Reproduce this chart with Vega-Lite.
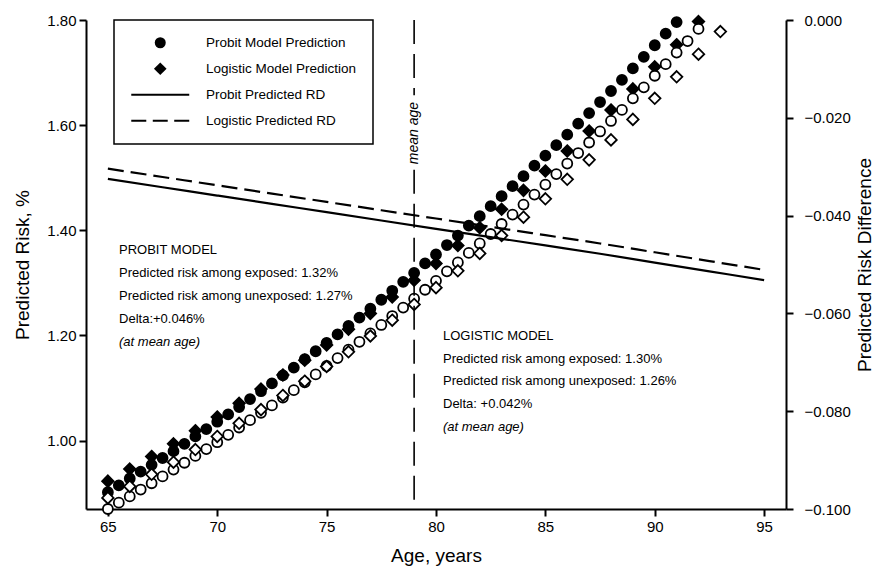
{
  "$schema": "https://vega.github.io/schema/vega-lite/v6.json",
  "width": 700,
  "height": 489,
  "autosize": {"type": "none"},
  "padding": {"left": 86, "top": 20, "right": 99, "bottom": 59},
  "background": "white",
  "config": {
    "font": "Liberation Sans, Arial, sans-serif",
    "view": {"stroke": null},
    "axis": {
      "grid": false, "domainColor": "black", "domainWidth": 2, "tickColor": "black", "tickWidth": 2, "tickSize": 7,
      "labelColor": "black", "labelFontSize": 15, "titleColor": "black", "titleFontSize": 19, "titleFontWeight": "normal",
      "labelFlush": false, "labelOverlap": false
    },
    "legend": {"labelFontSize": 13.5, "labelColor": "black", "labelLimit": 400, "strokeWidth": 1.5}
  },
  "datasets": {
    "points": [
      {"age": 65, "model": "Probit Model Prediction", "group": "exposed", "risk": 0.902},
      {"age": 65.5, "model": "Probit Model Prediction", "group": "exposed", "risk": 0.915},
      {"age": 66, "model": "Probit Model Prediction", "group": "exposed", "risk": 0.928},
      {"age": 66.5, "model": "Probit Model Prediction", "group": "exposed", "risk": 0.941},
      {"age": 67, "model": "Probit Model Prediction", "group": "exposed", "risk": 0.954},
      {"age": 67.5, "model": "Probit Model Prediction", "group": "exposed", "risk": 0.967},
      {"age": 68, "model": "Probit Model Prediction", "group": "exposed", "risk": 0.980},
      {"age": 68.5, "model": "Probit Model Prediction", "group": "exposed", "risk": 0.994},
      {"age": 69, "model": "Probit Model Prediction", "group": "exposed", "risk": 1.008},
      {"age": 69.5, "model": "Probit Model Prediction", "group": "exposed", "risk": 1.022},
      {"age": 70, "model": "Probit Model Prediction", "group": "exposed", "risk": 1.036},
      {"age": 70.5, "model": "Probit Model Prediction", "group": "exposed", "risk": 1.050},
      {"age": 71, "model": "Probit Model Prediction", "group": "exposed", "risk": 1.064},
      {"age": 71.5, "model": "Probit Model Prediction", "group": "exposed", "risk": 1.079},
      {"age": 72, "model": "Probit Model Prediction", "group": "exposed", "risk": 1.094},
      {"age": 72.5, "model": "Probit Model Prediction", "group": "exposed", "risk": 1.109},
      {"age": 73, "model": "Probit Model Prediction", "group": "exposed", "risk": 1.124},
      {"age": 73.5, "model": "Probit Model Prediction", "group": "exposed", "risk": 1.139},
      {"age": 74, "model": "Probit Model Prediction", "group": "exposed", "risk": 1.155},
      {"age": 74.5, "model": "Probit Model Prediction", "group": "exposed", "risk": 1.170},
      {"age": 75, "model": "Probit Model Prediction", "group": "exposed", "risk": 1.186},
      {"age": 75.5, "model": "Probit Model Prediction", "group": "exposed", "risk": 1.202},
      {"age": 76, "model": "Probit Model Prediction", "group": "exposed", "risk": 1.218},
      {"age": 76.5, "model": "Probit Model Prediction", "group": "exposed", "risk": 1.234},
      {"age": 77, "model": "Probit Model Prediction", "group": "exposed", "risk": 1.251},
      {"age": 77.5, "model": "Probit Model Prediction", "group": "exposed", "risk": 1.268},
      {"age": 78, "model": "Probit Model Prediction", "group": "exposed", "risk": 1.285},
      {"age": 78.5, "model": "Probit Model Prediction", "group": "exposed", "risk": 1.302},
      {"age": 79, "model": "Probit Model Prediction", "group": "exposed", "risk": 1.319},
      {"age": 79.5, "model": "Probit Model Prediction", "group": "exposed", "risk": 1.337},
      {"age": 80, "model": "Probit Model Prediction", "group": "exposed", "risk": 1.354},
      {"age": 80.5, "model": "Probit Model Prediction", "group": "exposed", "risk": 1.372},
      {"age": 81, "model": "Probit Model Prediction", "group": "exposed", "risk": 1.390},
      {"age": 81.5, "model": "Probit Model Prediction", "group": "exposed", "risk": 1.409},
      {"age": 82, "model": "Probit Model Prediction", "group": "exposed", "risk": 1.427},
      {"age": 82.5, "model": "Probit Model Prediction", "group": "exposed", "risk": 1.446},
      {"age": 83, "model": "Probit Model Prediction", "group": "exposed", "risk": 1.465},
      {"age": 83.5, "model": "Probit Model Prediction", "group": "exposed", "risk": 1.484},
      {"age": 84, "model": "Probit Model Prediction", "group": "exposed", "risk": 1.503},
      {"age": 84.5, "model": "Probit Model Prediction", "group": "exposed", "risk": 1.523},
      {"age": 85, "model": "Probit Model Prediction", "group": "exposed", "risk": 1.542},
      {"age": 85.5, "model": "Probit Model Prediction", "group": "exposed", "risk": 1.562},
      {"age": 86, "model": "Probit Model Prediction", "group": "exposed", "risk": 1.582},
      {"age": 86.5, "model": "Probit Model Prediction", "group": "exposed", "risk": 1.603},
      {"age": 87, "model": "Probit Model Prediction", "group": "exposed", "risk": 1.623},
      {"age": 87.5, "model": "Probit Model Prediction", "group": "exposed", "risk": 1.644},
      {"age": 88, "model": "Probit Model Prediction", "group": "exposed", "risk": 1.665},
      {"age": 88.5, "model": "Probit Model Prediction", "group": "exposed", "risk": 1.686},
      {"age": 89, "model": "Probit Model Prediction", "group": "exposed", "risk": 1.708},
      {"age": 89.5, "model": "Probit Model Prediction", "group": "exposed", "risk": 1.730},
      {"age": 90, "model": "Probit Model Prediction", "group": "exposed", "risk": 1.752},
      {"age": 90.5, "model": "Probit Model Prediction", "group": "exposed", "risk": 1.774},
      {"age": 91, "model": "Probit Model Prediction", "group": "exposed", "risk": 1.796},
      {"age": 65, "model": "Probit Model Prediction", "group": "unexposed", "risk": 0.870},
      {"age": 65.5, "model": "Probit Model Prediction", "group": "unexposed", "risk": 0.882},
      {"age": 66, "model": "Probit Model Prediction", "group": "unexposed", "risk": 0.894},
      {"age": 66.5, "model": "Probit Model Prediction", "group": "unexposed", "risk": 0.907},
      {"age": 67, "model": "Probit Model Prediction", "group": "unexposed", "risk": 0.919},
      {"age": 67.5, "model": "Probit Model Prediction", "group": "unexposed", "risk": 0.932},
      {"age": 68, "model": "Probit Model Prediction", "group": "unexposed", "risk": 0.945},
      {"age": 68.5, "model": "Probit Model Prediction", "group": "unexposed", "risk": 0.958},
      {"age": 69, "model": "Probit Model Prediction", "group": "unexposed", "risk": 0.971},
      {"age": 69.5, "model": "Probit Model Prediction", "group": "unexposed", "risk": 0.984},
      {"age": 70, "model": "Probit Model Prediction", "group": "unexposed", "risk": 0.997},
      {"age": 70.5, "model": "Probit Model Prediction", "group": "unexposed", "risk": 1.011},
      {"age": 71, "model": "Probit Model Prediction", "group": "unexposed", "risk": 1.025},
      {"age": 71.5, "model": "Probit Model Prediction", "group": "unexposed", "risk": 1.039},
      {"age": 72, "model": "Probit Model Prediction", "group": "unexposed", "risk": 1.053},
      {"age": 72.5, "model": "Probit Model Prediction", "group": "unexposed", "risk": 1.067},
      {"age": 73, "model": "Probit Model Prediction", "group": "unexposed", "risk": 1.082},
      {"age": 73.5, "model": "Probit Model Prediction", "group": "unexposed", "risk": 1.096},
      {"age": 74, "model": "Probit Model Prediction", "group": "unexposed", "risk": 1.111},
      {"age": 74.5, "model": "Probit Model Prediction", "group": "unexposed", "risk": 1.126},
      {"age": 75, "model": "Probit Model Prediction", "group": "unexposed", "risk": 1.142},
      {"age": 75.5, "model": "Probit Model Prediction", "group": "unexposed", "risk": 1.157},
      {"age": 76, "model": "Probit Model Prediction", "group": "unexposed", "risk": 1.173},
      {"age": 76.5, "model": "Probit Model Prediction", "group": "unexposed", "risk": 1.188},
      {"age": 77, "model": "Probit Model Prediction", "group": "unexposed", "risk": 1.204},
      {"age": 77.5, "model": "Probit Model Prediction", "group": "unexposed", "risk": 1.220},
      {"age": 78, "model": "Probit Model Prediction", "group": "unexposed", "risk": 1.237},
      {"age": 78.5, "model": "Probit Model Prediction", "group": "unexposed", "risk": 1.253},
      {"age": 79, "model": "Probit Model Prediction", "group": "unexposed", "risk": 1.270},
      {"age": 79.5, "model": "Probit Model Prediction", "group": "unexposed", "risk": 1.287},
      {"age": 80, "model": "Probit Model Prediction", "group": "unexposed", "risk": 1.304},
      {"age": 80.5, "model": "Probit Model Prediction", "group": "unexposed", "risk": 1.322},
      {"age": 81, "model": "Probit Model Prediction", "group": "unexposed", "risk": 1.339},
      {"age": 81.5, "model": "Probit Model Prediction", "group": "unexposed", "risk": 1.357},
      {"age": 82, "model": "Probit Model Prediction", "group": "unexposed", "risk": 1.375},
      {"age": 82.5, "model": "Probit Model Prediction", "group": "unexposed", "risk": 1.393},
      {"age": 83, "model": "Probit Model Prediction", "group": "unexposed", "risk": 1.412},
      {"age": 83.5, "model": "Probit Model Prediction", "group": "unexposed", "risk": 1.430},
      {"age": 84, "model": "Probit Model Prediction", "group": "unexposed", "risk": 1.449},
      {"age": 84.5, "model": "Probit Model Prediction", "group": "unexposed", "risk": 1.468},
      {"age": 85, "model": "Probit Model Prediction", "group": "unexposed", "risk": 1.487},
      {"age": 85.5, "model": "Probit Model Prediction", "group": "unexposed", "risk": 1.507},
      {"age": 86, "model": "Probit Model Prediction", "group": "unexposed", "risk": 1.527},
      {"age": 86.5, "model": "Probit Model Prediction", "group": "unexposed", "risk": 1.547},
      {"age": 87, "model": "Probit Model Prediction", "group": "unexposed", "risk": 1.567},
      {"age": 87.5, "model": "Probit Model Prediction", "group": "unexposed", "risk": 1.588},
      {"age": 88, "model": "Probit Model Prediction", "group": "unexposed", "risk": 1.608},
      {"age": 88.5, "model": "Probit Model Prediction", "group": "unexposed", "risk": 1.629},
      {"age": 89, "model": "Probit Model Prediction", "group": "unexposed", "risk": 1.651},
      {"age": 89.5, "model": "Probit Model Prediction", "group": "unexposed", "risk": 1.672},
      {"age": 90, "model": "Probit Model Prediction", "group": "unexposed", "risk": 1.694},
      {"age": 90.5, "model": "Probit Model Prediction", "group": "unexposed", "risk": 1.716},
      {"age": 91, "model": "Probit Model Prediction", "group": "unexposed", "risk": 1.738},
      {"age": 91.5, "model": "Probit Model Prediction", "group": "unexposed", "risk": 1.760},
      {"age": 92, "model": "Probit Model Prediction", "group": "unexposed", "risk": 1.783},
      {"age": 65, "model": "Logistic Model Prediction", "group": "exposed", "risk": 0.923},
      {"age": 66, "model": "Logistic Model Prediction", "group": "exposed", "risk": 0.946},
      {"age": 67, "model": "Logistic Model Prediction", "group": "exposed", "risk": 0.970},
      {"age": 68, "model": "Logistic Model Prediction", "group": "exposed", "risk": 0.994},
      {"age": 69, "model": "Logistic Model Prediction", "group": "exposed", "risk": 1.019},
      {"age": 70, "model": "Logistic Model Prediction", "group": "exposed", "risk": 1.045},
      {"age": 71, "model": "Logistic Model Prediction", "group": "exposed", "risk": 1.071},
      {"age": 72, "model": "Logistic Model Prediction", "group": "exposed", "risk": 1.098},
      {"age": 73, "model": "Logistic Model Prediction", "group": "exposed", "risk": 1.125},
      {"age": 74, "model": "Logistic Model Prediction", "group": "exposed", "risk": 1.153},
      {"age": 75, "model": "Logistic Model Prediction", "group": "exposed", "risk": 1.182},
      {"age": 76, "model": "Logistic Model Prediction", "group": "exposed", "risk": 1.212},
      {"age": 77, "model": "Logistic Model Prediction", "group": "exposed", "risk": 1.242},
      {"age": 78, "model": "Logistic Model Prediction", "group": "exposed", "risk": 1.273},
      {"age": 79, "model": "Logistic Model Prediction", "group": "exposed", "risk": 1.305},
      {"age": 80, "model": "Logistic Model Prediction", "group": "exposed", "risk": 1.337},
      {"age": 81, "model": "Logistic Model Prediction", "group": "exposed", "risk": 1.371},
      {"age": 82, "model": "Logistic Model Prediction", "group": "exposed", "risk": 1.405},
      {"age": 83, "model": "Logistic Model Prediction", "group": "exposed", "risk": 1.440},
      {"age": 84, "model": "Logistic Model Prediction", "group": "exposed", "risk": 1.476},
      {"age": 85, "model": "Logistic Model Prediction", "group": "exposed", "risk": 1.513},
      {"age": 86, "model": "Logistic Model Prediction", "group": "exposed", "risk": 1.551},
      {"age": 87, "model": "Logistic Model Prediction", "group": "exposed", "risk": 1.589},
      {"age": 88, "model": "Logistic Model Prediction", "group": "exposed", "risk": 1.629},
      {"age": 89, "model": "Logistic Model Prediction", "group": "exposed", "risk": 1.669},
      {"age": 90, "model": "Logistic Model Prediction", "group": "exposed", "risk": 1.711},
      {"age": 91, "model": "Logistic Model Prediction", "group": "exposed", "risk": 1.753},
      {"age": 92, "model": "Logistic Model Prediction", "group": "exposed", "risk": 1.797},
      {"age": 65, "model": "Logistic Model Prediction", "group": "unexposed", "risk": 0.891},
      {"age": 66, "model": "Logistic Model Prediction", "group": "unexposed", "risk": 0.913},
      {"age": 67, "model": "Logistic Model Prediction", "group": "unexposed", "risk": 0.936},
      {"age": 68, "model": "Logistic Model Prediction", "group": "unexposed", "risk": 0.959},
      {"age": 69, "model": "Logistic Model Prediction", "group": "unexposed", "risk": 0.983},
      {"age": 70, "model": "Logistic Model Prediction", "group": "unexposed", "risk": 1.008},
      {"age": 71, "model": "Logistic Model Prediction", "group": "unexposed", "risk": 1.033},
      {"age": 72, "model": "Logistic Model Prediction", "group": "unexposed", "risk": 1.059},
      {"age": 73, "model": "Logistic Model Prediction", "group": "unexposed", "risk": 1.086},
      {"age": 74, "model": "Logistic Model Prediction", "group": "unexposed", "risk": 1.113},
      {"age": 75, "model": "Logistic Model Prediction", "group": "unexposed", "risk": 1.141},
      {"age": 76, "model": "Logistic Model Prediction", "group": "unexposed", "risk": 1.169},
      {"age": 77, "model": "Logistic Model Prediction", "group": "unexposed", "risk": 1.199},
      {"age": 78, "model": "Logistic Model Prediction", "group": "unexposed", "risk": 1.229},
      {"age": 79, "model": "Logistic Model Prediction", "group": "unexposed", "risk": 1.259},
      {"age": 80, "model": "Logistic Model Prediction", "group": "unexposed", "risk": 1.291},
      {"age": 81, "model": "Logistic Model Prediction", "group": "unexposed", "risk": 1.323},
      {"age": 82, "model": "Logistic Model Prediction", "group": "unexposed", "risk": 1.356},
      {"age": 83, "model": "Logistic Model Prediction", "group": "unexposed", "risk": 1.390},
      {"age": 84, "model": "Logistic Model Prediction", "group": "unexposed", "risk": 1.425},
      {"age": 85, "model": "Logistic Model Prediction", "group": "unexposed", "risk": 1.460},
      {"age": 86, "model": "Logistic Model Prediction", "group": "unexposed", "risk": 1.497},
      {"age": 87, "model": "Logistic Model Prediction", "group": "unexposed", "risk": 1.534},
      {"age": 88, "model": "Logistic Model Prediction", "group": "unexposed", "risk": 1.572},
      {"age": 89, "model": "Logistic Model Prediction", "group": "unexposed", "risk": 1.611},
      {"age": 90, "model": "Logistic Model Prediction", "group": "unexposed", "risk": 1.651},
      {"age": 91, "model": "Logistic Model Prediction", "group": "unexposed", "risk": 1.692},
      {"age": 92, "model": "Logistic Model Prediction", "group": "unexposed", "risk": 1.735},
      {"age": 93, "model": "Logistic Model Prediction", "group": "unexposed", "risk": 1.778}
    ],
    "rd": [
      {"age": 65, "model": "Probit", "rd": -0.0325},
      {"age": 67.5, "model": "Probit", "rd": -0.0342},
      {"age": 70, "model": "Probit", "rd": -0.0359},
      {"age": 72.5, "model": "Probit", "rd": -0.0376},
      {"age": 75, "model": "Probit", "rd": -0.0393},
      {"age": 77.5, "model": "Probit", "rd": -0.0410},
      {"age": 80, "model": "Probit", "rd": -0.0427},
      {"age": 82.5, "model": "Probit", "rd": -0.0444},
      {"age": 85, "model": "Probit", "rd": -0.0461},
      {"age": 87.5, "model": "Probit", "rd": -0.0478},
      {"age": 90, "model": "Probit", "rd": -0.0496},
      {"age": 92.5, "model": "Probit", "rd": -0.0514},
      {"age": 95, "model": "Probit", "rd": -0.0532},
      {"age": 65, "model": "Logistic", "rd": -0.0304},
      {"age": 67.5, "model": "Logistic", "rd": -0.0321},
      {"age": 70, "model": "Logistic", "rd": -0.0338},
      {"age": 72.5, "model": "Logistic", "rd": -0.0355},
      {"age": 75, "model": "Logistic", "rd": -0.0372},
      {"age": 77.5, "model": "Logistic", "rd": -0.0389},
      {"age": 80, "model": "Logistic", "rd": -0.0406},
      {"age": 82.5, "model": "Logistic", "rd": -0.0423},
      {"age": 85, "model": "Logistic", "rd": -0.0440},
      {"age": 87.5, "model": "Logistic", "rd": -0.0457},
      {"age": 90, "model": "Logistic", "rd": -0.0475},
      {"age": 92.5, "model": "Logistic", "rd": -0.0493},
      {"age": 95, "model": "Logistic", "rd": -0.0511}
    ]
  },
  "layer": [
    {
      "data": {"name": "points"},
      "layer": [
        {
          "transform": [{"filter": "datum.group === 'exposed'"}],
          "mark": {"type": "point", "filled": true, "fill": "black", "stroke": "black", "strokeWidth": 1.8, "opacity": 1, "size": 100},
          "encoding": {
            "x": {"field": "age", "type": "quantitative", "scale": {"domain": [64, 96], "nice": false, "zero": false},
                  "axis": {"values": [65, 70, 75, 80, 85, 90, 95], "title": "Age, years", "labelPadding": 3, "titlePadding": 12}},
            "y": {"field": "risk", "type": "quantitative", "scale": {"domain": [0.87, 1.80], "nice": false, "zero": false},
                  "axis": {"values": [1.0, 1.2, 1.4, 1.6, 1.8], "format": ".2f", "title": "Predicted Risk, %", "labelPadding": 3, "titlePadding": 14}},
            "shape": {
              "field": "model", "type": "nominal",
              "scale": {
                "domain": ["Probit Model Prediction", "Logistic Model Prediction", "Probit  Predicted RD", "Logistic Predicted RD"],
                "range": [
                  "circle",
                  "M0,-1.15L1.15,0L0,1.15L-1.15,0Z",
                  "M-5.27,-0.2H5.27V0.2H-5.27Z",
                  "M-5.27,-0.2H-2.54V0.2H-5.27ZM-1.36,-0.2H1.36V0.2H-1.36ZM2.54,-0.2H5.27V0.2H2.54Z"
                ]
              },
              "legend": {
                "title": null, "orient": "none", "legendX": 28, "legendY": 0,
                "strokeColor": "black", "fillColor": "white", "padding": 16, "rowPadding": 6, "gridAlign": "all",
                "symbolSize": 121, "symbolOffset": 23.5, "labelOffset": 39,
                "symbolFillColor": "black", "symbolStrokeColor": "black", "labelFontSize": 13.5, "labelLimit": 400
              }
            }
          }
        },
        {
          "transform": [{"filter": "datum.group === 'unexposed'"}],
          "mark": {"type": "point", "filled": true, "fill": "white", "stroke": "black", "strokeWidth": 1.8, "opacity": 1, "size": 100},
          "encoding": {
            "x": {"field": "age", "type": "quantitative"},
            "y": {"field": "risk", "type": "quantitative"},
            "shape": {"field": "model", "type": "nominal"}
          }
        },
        {
          "data": {"values": [{}]},
          "mark": {"type": "rule", "color": "black", "strokeWidth": 1.6, "strokeDash": [24, 10]},
          "encoding": {"x": {"datum": 79, "type": "quantitative"}, "y": {"datum": 1.80, "type": "quantitative"}, "y2": {"datum": 1.657}}
        },
        {
          "data": {"values": [{}]},
          "mark": {"type": "rule", "color": "black", "strokeWidth": 1.6, "strokeDash": [24, 10]},
          "encoding": {"x": {"datum": 79, "type": "quantitative"}, "y": {"datum": 1.515, "type": "quantitative"}, "y2": {"datum": 0.87}}
        },
        {
          "data": {"values": [{}]},
          "mark": {"type": "text", "angle": 270, "align": "center", "baseline": "middle", "fontSize": 14, "fontStyle": "italic", "color": "black"},
          "encoding": {"x": {"datum": 79, "type": "quantitative"}, "y": {"datum": 1.585, "type": "quantitative"}, "text": {"value": "mean age"}}
        },
        {
          "data": {"values": [{}]},
          "mark": {"type": "text", "align": "left", "baseline": "top", "fontSize": 13, "lineHeight": 23, "color": "black"},
          "encoding": {"x": {"datum": 65.51, "type": "quantitative"}, "y": {"datum": 1.374, "type": "quantitative"},
                       "text": {"value": ["PROBIT MODEL", "Predicted risk among exposed: 1.32%", "Predicted risk among unexposed: 1.27%", "Delta:+0.046%"]}}
        },
        {
          "data": {"values": [{}]},
          "mark": {"type": "text", "align": "left", "baseline": "top", "fontSize": 13, "fontStyle": "italic", "color": "black"},
          "encoding": {"x": {"datum": 65.51, "type": "quantitative"}, "y": {"datum": 1.199, "type": "quantitative"}, "text": {"value": "(at mean age)"}}
        },
        {
          "data": {"values": [{}]},
          "mark": {"type": "text", "align": "left", "baseline": "top", "fontSize": 13, "lineHeight": 22.7, "color": "black"},
          "encoding": {"x": {"datum": 80.32, "type": "quantitative"}, "y": {"datum": 1.2104, "type": "quantitative"},
                       "text": {"value": ["LOGISTIC MODEL", "Predicted risk among exposed: 1.30%", "Predicted risk among unexposed: 1.26%", "Delta: +0.042%"]}}
        },
        {
          "data": {"values": [{}]},
          "mark": {"type": "text", "align": "left", "baseline": "top", "fontSize": 13, "fontStyle": "italic", "color": "black"},
          "encoding": {"x": {"datum": 80.32, "type": "quantitative"}, "y": {"datum": 1.0374, "type": "quantitative"}, "text": {"value": "(at mean age)"}}
        }
      ]
    },
    {
      "data": {"name": "rd"},
      "layer": [
        {
          "transform": [{"filter": "datum.model === 'Probit'"}],
          "mark": {"type": "line", "color": "black", "strokeWidth": 2.2, "interpolate": "monotone"},
          "encoding": {
            "x": {"field": "age", "type": "quantitative", "scale": {"domain": [64, 96], "nice": false, "zero": false}},
            "y": {"field": "rd", "type": "quantitative", "scale": {"domain": [-0.1, 0], "nice": false, "zero": false},
                  "axis": {"values": [0, -0.02, -0.04, -0.06, -0.08, -0.1], "format": ".3f", "title": "Predicted Risk Difference", "titleAngle": 270, "labelPadding": 11, "titlePadding": 24}}
          }
        },
        {
          "transform": [{"filter": "datum.model === 'Logistic'"}],
          "mark": {"type": "line", "color": "black", "strokeWidth": 2.2, "strokeDash": [16, 7], "interpolate": "monotone"},
          "encoding": {
            "x": {"field": "age", "type": "quantitative"},
            "y": {"field": "rd", "type": "quantitative"}
          }
        }
      ]
    }
  ],
  "resolve": {"scale": {"y": "independent"}}
}
